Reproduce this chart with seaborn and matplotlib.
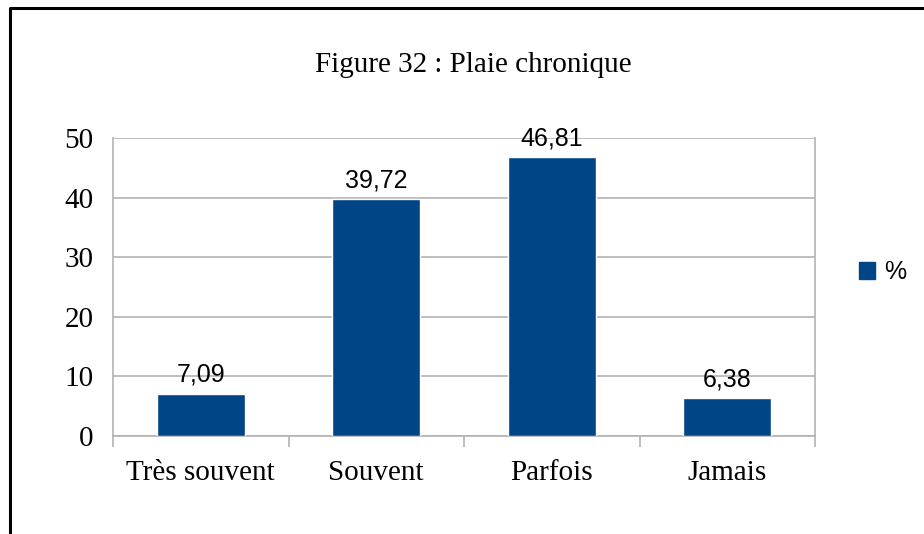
import matplotlib
matplotlib.use("Agg")
import matplotlib.pyplot as plt
from matplotlib.lines import Line2D
from matplotlib.patches import Patch
from matplotlib.ticker import FixedLocator
import pandas as pd
import seaborn as sns

categories = ["Très souvent", "Souvent", "Parfois", "Jamais"]
values = [7.09, 39.72, 46.81, 6.38]
series_name = "%"
title = "Figure 32 : Plaie chronique"

bar_color = "#004586"
grid_color = "#b3b3b3"

sns.set_style("white")
plt.rcParams["font.family"] = ["Liberation Serif", "DejaVu Serif"]
plt.rcParams["text.color"] = "black"

df = pd.DataFrame({"cat": categories, "val": values})

fig = plt.figure(figsize=(9.24, 5.34), dpi=100)
ax = fig.add_axes([113 / 924, 1 - 436 / 534, (815 - 113) / 924, (436 - 138) / 534])

sns.barplot(data=df, x="cat", y="val", color=bar_color, width=0.5,
            saturation=1, ax=ax, zorder=3)

ax.set_ylim(0, 50)
ax.set_xlim(-0.5, len(categories) - 0.5)
ax.set_yticks([0, 10, 20, 30, 40, 50])
ax.set_xlabel("")
ax.set_ylabel("")

# grid and frame
ax.yaxis.grid(True, color=grid_color, linewidth=1.2, zorder=0)
ax.set_axisbelow(True)
for side in ["left", "right", "bottom"]:
    ax.spines[side].set_color(grid_color)
    ax.spines[side].set_linewidth(1.2)
ax.spines["top"].set_visible(False)

ax.tick_params(axis="y", length=9, width=1.2, color=grid_color, pad=5,
               labelsize=21, labelcolor="black")
ax.tick_params(axis="x", which="major", length=0, pad=17, labelsize=21,
               labelcolor="black")
ax.xaxis.set_minor_locator(FixedLocator([i - 0.5 for i in range(len(categories) + 1)]))
ax.tick_params(axis="x", which="minor", length=8, width=1.2, color=grid_color,
               bottom=True)

# value labels
labels = [f"{v:.2f}".replace(".", ",") for v in values]
ax.bar_label(ax.containers[0], labels=labels, padding=5, fontsize=18,
             color="black", family=["Liberation Sans", "DejaVu Sans"])

fig.suptitle(title, x=473 / 924, y=1 - 65 / 534, va="center", fontsize=21,
             color="black")

# legend
handle = Patch(facecolor=bar_color, edgecolor=bar_color)
fig.legend([handle], [series_name], loc="center left",
           bbox_to_anchor=(859 / 924, 1 - 272 / 534), frameon=False,
           handlelength=0.65, handleheight=0.65, handletextpad=0.35, borderpad=0,
           borderaxespad=0, labelcolor="black",
           prop={"family": ["Liberation Sans", "DejaVu Sans"], "size": 18})

# outer border (left and top edges visible)
fig.add_artist(Line2D([9.5 / 924, 9.5 / 924, 1.0], [0.0, 1 - 8 / 534, 1 - 8 / 534],
                      transform=fig.transFigure, color="black", linewidth=2.2))

fig.savefig("out.png", dpi=100)
